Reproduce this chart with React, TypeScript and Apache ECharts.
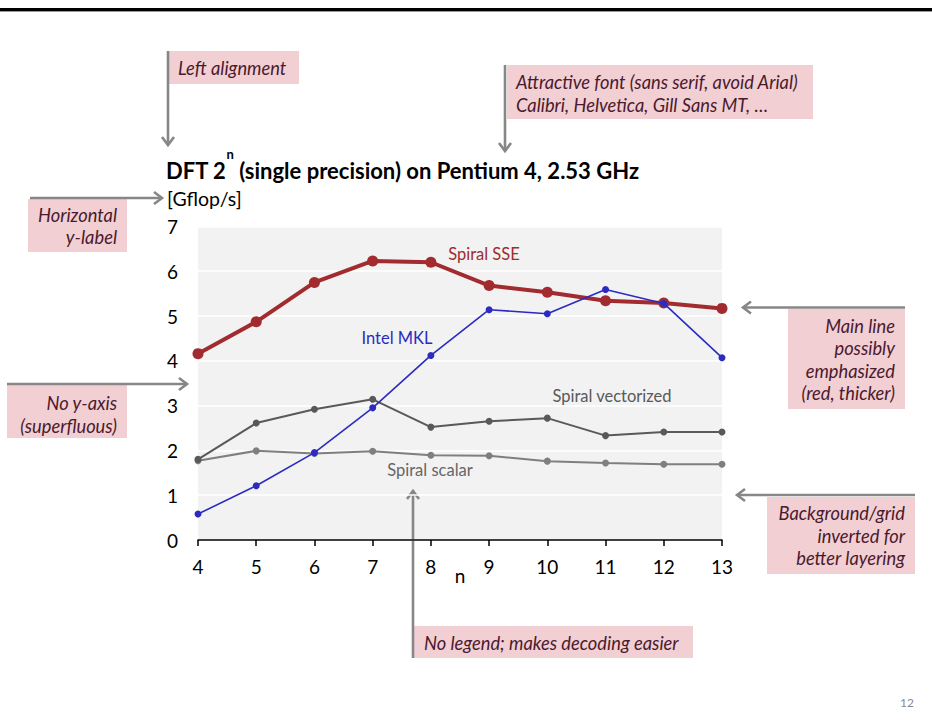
import React, { useEffect, useRef } from "react";
import * as echarts from "echarts";

const nValues = ["4", "5", "6", "7", "8", "9", "10", "11", "12", "13"];
const spiralSSE = [4.16, 4.87, 5.75, 6.23, 6.2, 5.68, 5.53, 5.34, 5.29, 5.17];
const intelMKL = [0.58, 1.21, 1.95, 2.95, 4.12, 5.14, 5.05, 5.59, 5.28, 4.07];
const spiralVectorized = [1.8, 2.61, 2.92, 3.14, 2.52, 2.65, 2.72, 2.33, 2.41, 2.41];
const spiralScalar = [1.77, 1.99, 1.93, 1.98, 1.89, 1.88, 1.76, 1.72, 1.69, 1.69];

const FONT = "Lato, 'Open Sans', sans-serif";
const RED = "#A12B2E";
const BLUE = "#2B2BC2";
const DARK_GREY = "#595959";
const LIGHT_GREY = "#7F7F7F";
const BOX_FILL = "#F2CFD2";
const NOTE_COLOR = "#4A1A2E";
const ARROW = "#878787";

function box(x: number, y: number, w: number, h: number) {
  return { type: "rect", shape: { x, y, width: w, height: h }, style: { fill: BOX_FILL }, silent: true };
}
function note(text: string, x: number, y: number, align: string) {
  return {
    type: "text",
    x,
    y,
    style: {
      text,
      fill: NOTE_COLOR,
      font: `italic 18.3px ${FONT}`,
      align,
      verticalAlign: "middle",
      lineHeight: 22.5,
    },
    silent: true,
  };
}
function line(points: number[][]) {
  return {
    type: "polyline",
    shape: { points },
    style: { stroke: ARROW, lineWidth: 2.6, fill: null, lineJoin: "miter" },
    silent: true,
  };
}

export default function App() {
  const ref = useRef<HTMLDivElement>(null);
  useEffect(() => {
    const chart = echarts.init(ref.current!, null, { renderer: "svg" });
    chart.setOption({
      animation: false,
      backgroundColor: "#ffffff",
      grid: {
        left: 198,
        right: 210,
        top: 226.4,
        bottom: 185,
        show: true,
        backgroundColor: "#F2F2F2",
        borderWidth: 0,
      },
      xAxis: {
        type: "category",
        data: nValues,
        boundaryGap: false,
        name: "n",
        nameLocation: "middle",
        nameGap: 26,
        nameMoveOverlap: false,
        nameTextStyle: { fontFamily: FONT, fontSize: 19, color: "#000" },
        axisLine: { lineStyle: { color: "#000", width: 1.5 } },
        axisTick: { show: true, length: 6, lineStyle: { color: "#000", width: 1.5 } },
        axisLabel: { fontFamily: FONT, fontSize: 19, color: "#000", margin: 17 },
        splitLine: { show: false },
      },
      yAxis: {
        type: "value",
        min: 0,
        max: 7,
        interval: 1,
        axisLine: { show: false },
        axisTick: { show: false },
        axisLabel: { fontFamily: FONT, fontSize: 19, color: "#000", margin: 20 },
        splitLine: { show: true, lineStyle: { color: "#ffffff", width: 1.6 } },
      },
      series: [
        {
          type: "line",
          name: "Spiral scalar",
          data: spiralScalar,
          symbol: "circle",
          symbolSize: 7,
          lineStyle: { color: LIGHT_GREY, width: 2 },
          itemStyle: { color: LIGHT_GREY },
          z: 2,
        },
        {
          type: "line",
          name: "Spiral vectorized",
          data: spiralVectorized,
          symbol: "circle",
          symbolSize: 7,
          lineStyle: { color: DARK_GREY, width: 2 },
          itemStyle: { color: DARK_GREY },
          z: 3,
        },
        {
          type: "line",
          name: "Spiral SSE",
          data: spiralSSE,
          symbol: "circle",
          symbolSize: 11,
          lineStyle: { color: RED, width: 4 },
          itemStyle: { color: RED },
          z: 4,
        },
        {
          type: "line",
          name: "Intel MKL",
          data: intelMKL,
          symbol: "circle",
          symbolSize: 7,
          lineStyle: { color: BLUE, width: 1.6 },
          itemStyle: { color: BLUE },
          z: 5,
        },
      ],
      graphic: [
        { type: "rect", shape: { x: 0, y: 8, width: 932, height: 3 }, style: { fill: "#000" }, silent: true },
        { type: "rect", shape: { x: 0, y: 11, width: 932, height: 1 }, style: { fill: "#9a9a9a" }, silent: true },
        {
          type: "text",
          x: 166,
          y: 170,
          style: {
            text: "{a|DFT 2}{s|n}{a| (single precision) on Pentium 4, 2.53 GHz}",
            verticalAlign: "middle",
            align: "left",
            rich: {
              a: { font: `bold 22px ${FONT}`, fill: "#000", lineHeight: 26, verticalAlign: "middle" },
              s: { font: `bold 13px ${FONT}`, fill: "#000", lineHeight: 46, verticalAlign: "top" },
            },
          },
          silent: true,
        },
        {
          type: "text",
          x: 167,
          y: 198,
          style: { text: "[Gflop/s]", font: `19.5px ${FONT}`, fill: "#000", align: "left", verticalAlign: "middle" },
          silent: true,
        },
        { type: "text", x: 484, y: 254, style: { text: "Spiral SSE", font: `16.5px ${FONT}`, fill: RED, align: "center", verticalAlign: "middle" }, silent: true },
        { type: "text", x: 397, y: 338, style: { text: "Intel MKL", font: `16.5px ${FONT}`, fill: BLUE, align: "center", verticalAlign: "middle" }, silent: true },
        { type: "text", x: 612, y: 396, style: { text: "Spiral vectorized", font: `16.5px ${FONT}`, fill: DARK_GREY, align: "center", verticalAlign: "middle" }, silent: true },
        { type: "text", x: 430, y: 470, style: { text: "Spiral scalar", font: `16.5px ${FONT}`, fill: "#666666", align: "center", verticalAlign: "middle" }, silent: true },

        box(168, 51, 131, 33),
        note("Left alignment", 178, 68, "left"),
        line([[168, 51], [168, 145]]),
        line([[162, 137], [168, 145], [174, 137]]),

        box(507, 65, 306, 54),
        note("Attractive font (sans serif, avoid Arial)\nCalibri, Helvetica, Gill Sans MT, …", 516, 93.5, "left"),
        line([[505, 65], [505, 151]]),
        line([[499, 143], [505, 151], [511, 143]]),

        box(28, 199, 99, 53),
        note("Horizontal\ny-label", 117, 226, "right"),
        line([[30, 198], [162, 198]]),
        line([[154, 192], [162, 198], [154, 204]]),

        box(7, 385, 120, 53),
        note("No y-axis\n(superfluous)", 117, 414.5, "right"),
        line([[7, 384], [187, 384]]),
        line([[179, 378], [187, 384], [179, 390]]),

        box(788, 309, 117, 100),
        note("Main line\npossibly\nemphasized\n(red, thicker)", 895, 359.5, "right"),
        line([[905, 307.5], [743, 307.5]]),
        line([[751, 301.5], [743, 307.5], [751, 313.5]]),

        box(767, 497, 148, 77),
        note("Background/grid\ninverted for\nbetter layering", 905, 535.5, "right"),
        line([[915, 495], [737, 495]]),
        line([[745, 489], [737, 495], [745, 501]]),

        box(414, 626, 279, 32),
        note("No legend; makes decoding easier", 424, 643, "left"),
        line([[413, 658], [413, 491]]),
        line([[407, 499], [413, 491], [419, 499]]),

        { type: "text", x: 907, y: 702, style: { text: "12", font: `12px ${FONT}`, fill: "#8a8a8a", align: "center", verticalAlign: "middle" }, silent: true },
      ],
    });
    return () => chart.dispose();
  }, []);
  return (
    <div
      ref={ref}
      style={{ position: "fixed", left: 0, top: 0, width: 932, height: 725, background: "#fff" }}
    />
  );
}
